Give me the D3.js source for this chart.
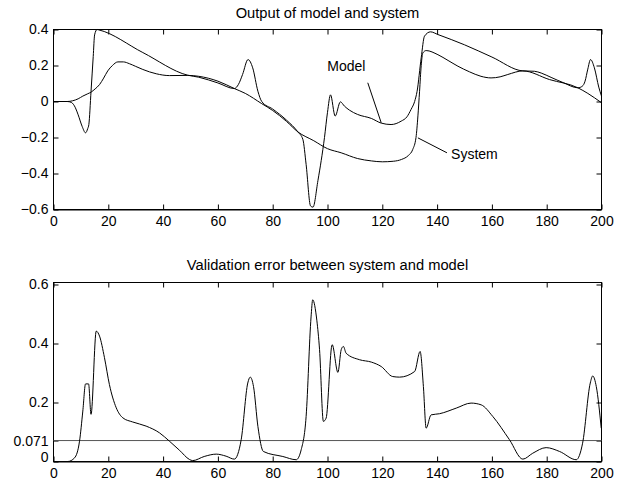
<!DOCTYPE html>
<html><head><meta charset="utf-8">
<script src="https://cdn.jsdelivr.net/npm/d3@7"></script>
<style>
html,body{margin:0;padding:0;background:#fff;}
svg{display:block;font-family:"Liberation Sans",Arial,Helvetica,sans-serif;}
</style></head>
<body>
<svg id="c" width="625" height="484"></svg>
<script>
// ---- data ----
const xTicks = [0,20,40,60,80,100,120,140,160,180,200];
const topYTicks = [-0.6,-0.4,-0.2,0,0.2,0.4];
const topYLabels = ["−0.6","−0.4","−0.2","0","0.2","0.4"];
const botYTicks = [0,0.071,0.2,0.4,0.6];
const botYLabels = ["0","0.071","0.2","0.4","0.6"];
const topTitle = "Output of model and system";
const botTitle = "Validation error between system and model";
const threshold = 0.071;

const systemT = [0,5,7,9,10.7,12.5,13.7,15.2,16.8,18.3,19.8,21.5,23.5,25.5,27.7,30,32.6,37.5,42.3,49,53,60,66,70,76,80,85,89.2,95,100,105,111,116,120,124,127,129.5,131.1,132.3,133,133.6,134.2,134.8,136,140.3,144,147.6,151.8,156,159.7,163,165.8,171.3,181,191.4,195,200];
const systemY = [0,0,0.004,0.015,0.03,0.043,0.052,0.07,0.094,0.13,0.17,0.2,0.22,0.22,0.21,0.195,0.178,0.154,0.144,0.145,0.14,0.113,0.072,0.045,-0.012,-0.05,-0.11,-0.169,-0.218,-0.262,-0.285,-0.317,-0.33,-0.335,-0.332,-0.322,-0.3,-0.267,-0.2,-0.08,0.057,0.2,0.27,0.283,0.26,0.228,0.196,0.165,0.14,0.131,0.137,0.15,0.17,0.122,0.076,0.045,-0.007];

const modelT = [0,5,6.5,8,9,10.5,11.7,12.5,12.9,13.7,14.5,15,15.9,16.5,32.6,49,53,60,66,67.5,69,71,72.7,74.6,76,80,85,89.2,91,92.2,93.8,94.7,96.5,98.9,100,101.1,102.8,104.7,106.2,108,111,116,119.6,123.2,126.9,129,130.5,131.8,132.7,134.2,135.4,137.6,140.3,150,160,171.3,175.5,178,181.6,186,191.4,193,194,195,196,197.4,199,200];
const modelY = [0,0,-0.005,-0.035,-0.074,-0.14,-0.174,-0.15,-0.128,0.057,0.25,0.37,0.4,0.398,0.272,0.146,0.135,0.103,0.072,0.095,0.15,0.233,0.187,0.057,0.0,-0.042,-0.103,-0.169,-0.21,-0.35,-0.58,-0.587,-0.44,-0.2,-0.06,0.037,-0.081,-0.002,-0.026,-0.048,-0.072,-0.094,-0.12,-0.128,-0.109,-0.085,-0.044,0.0,0.057,0.243,0.363,0.387,0.372,0.315,0.247,0.17,0.168,0.158,0.134,0.105,0.076,0.085,0.113,0.18,0.233,0.187,0.08,0.03];

const errorT = [0,5.2,7.7,9.5,10.7,11.7,12.8,13.7,15.6,16.8,18.6,20.4,22.9,25.3,28.9,33.8,38.7,42.3,46,49.6,50.8,55,59.4,63,66,68.5,70.9,71.8,73,74.6,76.6,83.7,88.6,90.4,92.2,94,94.6,96.1,97.1,98.5,99.5,101.7,103.8,105,105.8,106.8,111.7,116,119.6,123.8,126.3,131.8,133.8,135,136,137.8,140.9,147,152.4,156.1,160.3,166.4,171.3,174.9,179.8,184.7,190.8,193.1,195.9,196.8,198.1,199.9];
const errorY = [0,0,0.0125,0.069,0.171,0.263,0.263,0.16,0.442,0.425,0.352,0.261,0.182,0.148,0.134,0.12,0.097,0.069,0.038,0.007,0.003,0.017,0.025,0.018,0.008,0.074,0.266,0.286,0.254,0.119,0.034,0.017,0.006,0.04,0.153,0.49,0.548,0.479,0.379,0.136,0.147,0.396,0.302,0.379,0.39,0.367,0.345,0.337,0.322,0.288,0.286,0.305,0.373,0.254,0.113,0.158,0.162,0.181,0.198,0.192,0.153,0.074,0.008,0.028,0.047,0.034,0.006,0.062,0.266,0.29,0.254,0.113];

const annotations = [
  {text:"Model", tx:99.9, ty:0.168, x1:114.7, y1:0.104, x2:119.6, y2:-0.118},
  {text:"System", tx:145.1, ty:-0.322, x1:133.0, y1:-0.202, x2:143.6, y2:-0.285}
];

// ---- drawing ----
const svg = d3.select("#c");
svg.append("rect").attr("width",625).attr("height",484).attr("fill","#fff");
const L = 53.5, R = 601.5;
const FS = 14;
const TFS = 14.7;

function panel(top, bottom, yDomain, yTicks, yLabels, title, titleY) {
  const x = d3.scaleLinear().domain([0,200]).range([L,R]);
  const y = d3.scaleLinear().domain(yDomain).range([bottom,top]);
  const g = svg.append("g");
  const fmtX = d => String(d);
  const lab = d => yLabels[yTicks.indexOf(d)];
  const ax = (gen, tr) => {
    const a = g.append("g").attr("transform",tr).call(gen);
    a.selectAll("text").attr("font-size",FS).attr("font-family","Liberation Sans, Arial, sans-serif").attr("fill","#000");
    a.selectAll("line").attr("stroke","#000");
    a.select(".domain").remove();
    return a;
  };
  ax(d3.axisBottom(x).tickValues(xTicks).tickSize(-5).tickSizeOuter(0).tickPadding(6.8).tickFormat(fmtX), `translate(0,${bottom})`);
  ax(d3.axisTop(x).tickValues(xTicks).tickSize(-5).tickSizeOuter(0).tickFormat(""), `translate(0,${top})`);
  const la = ax(d3.axisLeft(y).tickValues(yTicks).tickSize(-5).tickSizeOuter(0).tickPadding(5).tickFormat(lab), `translate(${L},0)`);
  ax(d3.axisRight(y).tickValues(yTicks).tickSize(-5).tickSizeOuter(0).tickFormat(""), `translate(${R},0)`);
  g.append("rect").attr("x",L).attr("y",top).attr("width",R-L).attr("height",bottom-top)
    .attr("fill","none").attr("stroke","#000").attr("stroke-width",1);
  g.append("line").attr("x1",L).attr("x2",R).attr("y1",bottom+0.5).attr("y2",bottom+0.5).attr("stroke","#000").attr("stroke-width",1);
  g.append("text").attr("x",(L+R)/2).attr("y",titleY).attr("text-anchor","middle")
    .attr("font-size",TFS).text(title);
  return {x,y,g,la};
}

const p1 = panel(29.5, 209.5, [-0.6,0.4], topYTicks, topYLabels, topTitle, 18);
const line1 = d3.line().curve(d3.curveMonotoneX).x(d=>p1.x(d[0])).y(d=>p1.y(d[1]));
p1.g.append("path").datum(d3.zip(systemT,systemY)).attr("d",line1).attr("fill","none").attr("stroke","#000").attr("stroke-width",1);
p1.g.append("path").datum(d3.zip(modelT,modelY)).attr("d",line1).attr("fill","none").attr("stroke","#000").attr("stroke-width",1);
annotations.forEach(a=>{
  p1.g.append("line").attr("x1",p1.x(a.x1)).attr("y1",p1.y(a.y1)).attr("x2",p1.x(a.x2)).attr("y2",p1.y(a.y2)).attr("stroke","#000");
  p1.g.append("text").attr("x",p1.x(a.tx)).attr("y",p1.y(a.ty)).attr("font-size",FS).text(a.text);
});

const p2 = panel(282.5, 461.5, [0,(461.5-282.5)/295], botYTicks, botYLabels, botTitle, 270);
p2.la.selectAll(".tick").filter(d=>d===0).select("text").attr("dy","0.02em");
const line2 = d3.line().curve(d3.curveMonotoneX).x(d=>p2.x(d[0])).y(d=>p2.y(d[1]));
p2.g.append("line").attr("x1",p2.x(0)).attr("x2",p2.x(200)).attr("y1",p2.y(threshold)).attr("y2",p2.y(threshold)).attr("stroke","#555").attr("stroke-width",1);
p2.g.append("path").datum(d3.zip(errorT,errorY)).attr("d",line2).attr("fill","none").attr("stroke","#000").attr("stroke-width",1);
</script>
</body></html>
